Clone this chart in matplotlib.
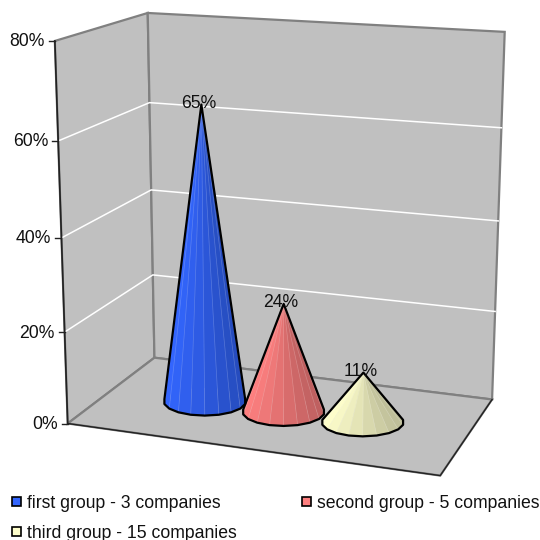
# plot.py - 3D style cone chart, drawn by hand through a small camera fit
import numpy as np
import matplotlib
matplotlib.use("Agg")
import matplotlib.pyplot as plt
from matplotlib.patches import Polygon, Rectangle

plt.rcParams['font.family'] = ['Liberation Sans', 'DejaVu Sans']

# ── Data ──────────────────────────────────────────────────────────────────────
groups = ["first group - 3 companies", "second group - 5 companies",
          "third group - 15 companies"]
values = [65, 24, 11]
tick_values = [0, 20, 40, 60, 80]

base_colors = ["#3366FF", "#FF8080", "#FFFFCC"]

# ── Box layout (pixels of the box corners, used to fit the projection) ────────
# (x across, y depth, z value) -> pixel
anchors = [
    ((0, 0, 0),  (68, 424)),
    ((0, 0, 20), (65, 332)),
    ((0, 0, 40), (62, 237)),
    ((0, 0, 60), (58, 140)),
    ((0, 0, 80), (54, 42)),
    ((0, 1, 0),  (154, 358)),
    ((0, 1, 80), (148, 13)),
    ((1, 1, 0),  (492, 399)),
    ((1, 1, 80), (505, 32)),
    ((1, 0, 0),  (440, 476)),
]


def fit_camera(pairs):
    rows, rhs = [], []
    for (x, y, z), (px, py) in pairs:
        rows.append([x, y, z, 1, 0, 0, 0, 0, -px*x, -px*y, -px*z])
        rhs.append(px)
        rows.append([0, 0, 0, 0, x, y, z, 1, -py*x, -py*y, -py*z])
        rhs.append(py)
    sol = np.linalg.lstsq(np.array(rows, float), np.array(rhs, float), rcond=None)[0]
    return np.append(sol, 1.0).reshape(3, 4)


CAM = fit_camera(anchors)


def proj(x, y, z):
    p = CAM @ np.array([x, y, z, 1.0])
    return p[0] / p[2], p[1] / p[2]


# ── Figure ────────────────────────────────────────────────────────────────────
fig = plt.figure(figsize=(5.4, 5.4), dpi=100)
ax = fig.add_axes([0, 0, 1, 1])
ax.set_xlim(0, 540)
ax.set_ylim(540, 0)
ax.axis('off')

WALL = "#C0C0C0"
EDGE = "#808080"
DARK = "#222222"
ztop = tick_values[-1]

# walls and floor
left_wall = [proj(0, 0, 0), proj(0, 1, 0), proj(0, 1, ztop), proj(0, 0, ztop)]
back_wall = [proj(0, 1, 0), proj(1, 1, 0), proj(1, 1, ztop), proj(0, 1, ztop)]
floor = [proj(0, 0, 0), proj(1, 0, 0), proj(1, 1, 0), proj(0, 1, 0)]
for poly in (left_wall, back_wall, floor):
    ax.add_patch(Polygon(poly, closed=True, facecolor=WALL, edgecolor=EDGE, lw=1.6, zorder=1))

# gridlines
for v in tick_values[1:-1]:
    ax.plot(*zip(proj(0, 0, v), proj(0, 1, v), proj(1, 1, v)), color="white", lw=1.1, zorder=2)

# front axis, front floor edges and ticks
ax.plot(*zip(proj(0, 0, 0), proj(0, 0, ztop)), color=DARK, lw=1.2, zorder=3)
ax.plot(*zip(proj(0, 0, 0), proj(1, 0, 0), proj(1, 1, 0)), color=DARK, lw=1.0, zorder=3)
for v in tick_values:
    px, py = proj(0, 0, v)
    ax.plot([px - 6, px], [py, py], color=DARK, lw=1.0, zorder=3)
    ax.text(px - 10, py + 1, f"{v}%", ha='right', va='center', fontsize=12.7, color="#111111")


# ── Cones ─────────────────────────────────────────────────────────────────────
def hull(points):
    pts = sorted(set(points))

    def half(seq):
        out = []
        for p in seq:
            while len(out) > 1 and ((out[-1][0]-out[-2][0])*(p[1]-out[-2][1])
                                    - (out[-1][1]-out[-2][1])*(p[0]-out[-2][0])) <= 0:
                out.pop()
            out.append(p)
        return out[:-1]
    return half(pts) + half(pts[::-1])


def shade(color, t):
    # t = -1 left side of the cone, +1 right side
    rgb = np.array(matplotlib.colors.to_rgb(color))
    k = 1.0 - 0.13 * (t + 1)
    return tuple(np.clip(rgb * k, 0, 1))


CONE_X = [0.274, 0.500, 0.720]
CONE_DEPTH = 0.49
RX, RY = 41, 14
N_SIDES = 18

for val, col, cx3 in zip(values, base_colors, CONE_X):
    cx, cy = proj(cx3, CONE_DEPTH, 0)
    apex = proj(cx3, CONE_DEPTH, val)
    ang = np.linspace(0, 2*np.pi, N_SIDES, endpoint=False) + np.pi/N_SIDES
    rim = [(cx + RX*np.cos(a), cy + RY*np.sin(a)) for a in ang]
    # back to front, only the facets facing us end up on top
    order = np.argsort([np.sin(a) for a in ang])
    for i in order:
        a, b = rim[i], rim[(i+1) % N_SIDES]
        t = np.cos(ang[i] + np.pi/N_SIDES)
        ax.add_patch(Polygon([apex, a, b], closed=True, facecolor=shade(col, t),
                             edgecolor=shade(col, t), lw=0.3, zorder=4))
        if np.sin(ang[i]) > 0:
            # pale seam between facets
            ax.plot(*zip(apex, a), color="white", alpha=0.22, lw=0.5, zorder=4.5)
    ax.add_patch(Polygon(hull(rim + [apex]), closed=True, fill=False,
                         edgecolor="black", lw=1.6, joinstyle='round', zorder=5))
    ax.text(apex[0] - 3, apex[1] - 1, f"{val}%", ha='center', va='center',
            fontsize=12.7, color="#111111", zorder=6)

# ── Legend ────────────────────────────────────────────────────────────────────
legend_pos = [(12, 502), (302, 502), (12, 532)]
for (lx, ly), label, col in zip(legend_pos, groups, base_colors):
    ax.add_patch(Rectangle((lx, ly - 5), 9, 9, facecolor=col, edgecolor="black", lw=1.2))
    ax.text(lx + 15, ly + 1, label, ha='left', va='center', fontsize=12.7, color="#111111")

fig.savefig("out.png", dpi=100)
